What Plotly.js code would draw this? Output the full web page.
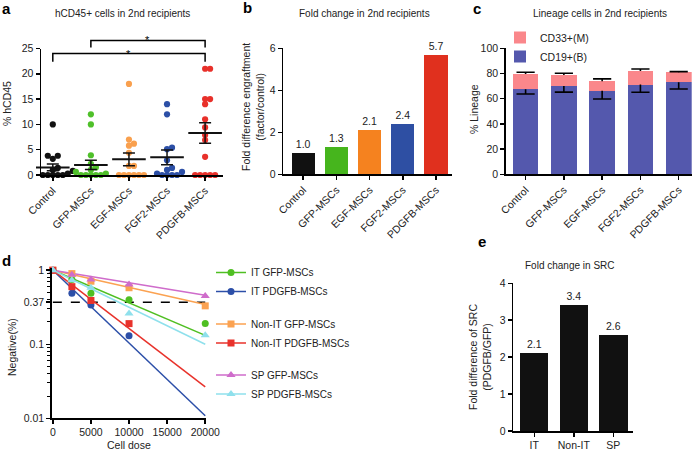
<!DOCTYPE html>
<html><head><meta charset="utf-8">
<script src="https://cdn.plot.ly/plotly-3.0.1.min.js"></script>
<style>html,body{margin:0;padding:0;background:#fff}#chart{width:698px;height:451px}</style>
</head><body><div id="chart"></div>
<script>
// ---------------- data ----------------
// Panel a / b / c categories
const groups = ['Control', 'GFP-MSCs', 'EGF-MSCs', 'FGF2-MSCs', 'PDGFB-MSCs'];
// Panel a: % hCD45 per mouse
const hcd45Control = [10, 3.8, 3.2, 3.8, 1.4, 1.0, 0.8, 0.5, 0.3, 0, 0, 0, 0, 0];
const hcd45GFP = [12, 10, 3.9, 2.2, 1.5, 1.0, 0.6, 0.3, 0, 0, 0, 0, 0];
const hcd45EGF = [18, 7, 6.2, 5.8, 4.4, 1.8, 1.8, 0, 0, 0, 0, 0, 0];
const hcd45FGF2 = [14, 12, 5.4, 5.1, 2.9, 1.4, 1.0, 0.6, 0.3, 0, 0, 0, 0];
const hcd45PDGFB = [21, 21, 15, 15, 14, 11, 9.4, 7.9, 6.9, 3.6, 0, 0, 0, 0, 0];
const hcd45Mean = [1.5, 2.0, 3.1, 3.5, 8.3];
const hcd45Sem = [0.65, 0.9, 1.25, 1.45, 2.05];
// Panel b: fold difference engraftment
const foldEngraft = [1.0, 1.3, 2.1, 2.4, 5.7];
// Panel c: lineage
const cd19 = [67.5, 70.0, 66.4, 71.2, 73.0];
const cd19Err = [3.8, 4.8, 6.6, 6.1, 5.3];
const cd33 = [12.1, 8.8, 7.4, 10.8, 8.0];
const cd33Err = [1.4, 1.4, 1.9, 1.6, 0.5];
// Panel d: limiting dilution
const cellDose = [0, 2500, 5000, 10000, 20000];
const fitDose = [0, 20000];
const negITGFP = [1, 0.75, 0.49, 0.40, 0.19];
const negITPDGFB = [1, 0.49, 0.34, 0.13, null];
const negNonITGFP = [1, 0.90, 0.71, 0.58, 0.33];
const negNonITPDGFB = [1, 0.60, 0.39, 0.19, null];
const negSPGFP = [1, 0.87, 0.75, 0.64, 0.45];
const negSPPDGFB = [1, 0.73, 0.58, 0.26, 0.132];
const fitITGFP = [1, 0.132];
const fitITPDGFB = [1, 0.0108];
const fitNonITGFP = [1, 0.345];
const fitNonITPDGFB = [1, 0.0265];
const fitSPGFP = [1, 0.46];
const fitSPPDGFB = [1, 0.10];
const threshold37 = 0.37;
// Panel e
const srcGroups = ['IT', 'Non-IT', 'SP'];
const srcFold = [2.1, 3.4, 2.6];

// ---------------- styling / layout helpers ----------------
const W = 698, H = 451;
const FONT = 'Liberation Sans, Arial, Helvetica, sans-serif';
const dx = (l, r) => [l / W, r / W];
const dy = (t, b) => [1 - b / H, 1 - t / H];
const axBase = {
  showline: true, linecolor: '#000', linewidth: 1.5, ticks: 'outside', ticklen: 4,
  tickwidth: 1.5, tickcolor: '#000', showgrid: false, zeroline: false,
  tickfont: {size: 10.5, color: '#222'}, fixedrange: true
};
const colA = ['#111111', '#4fc02a', '#f9a04e', '#2c4fa6', '#e8302a'];
const colB = ['#111111', '#46b51d', '#f5821f', '#2e4fa3', '#e0301e'];

const traces = [];

// ---------- panel a ----------
const domAx = dx(41, 223), domAy = dy(48.5, 175);
const rangeAx = [-0.31, 4.47], rangeAy = [0, 25];
const pxPerCatA = (domAx[1] - domAx[0]) * W / (rangeAx[1] - rangeAx[0]);
const pxPerUnitA = (domAy[1] - domAy[0]) * H / (rangeAy[1] - rangeAy[0]);
function swarm(vals, step) {
  const idx = vals.map((v, i) => i).sort((a, b) => vals[a] - vals[b]);
  const placed = [], off = new Array(vals.length).fill(0);
  for (const i of idx) {
    const y = vals[i] * pxPerUnitA;
    for (let k = 0; k < 60; k++) {
      const x = (k % 2 ? 1 : -1) * Math.ceil(k / 2) * step;
      if (placed.every(p => (p.x - x) ** 2 + (p.y - y) ** 2 >= step * step * 0.95)) {
        placed.push({x, y}); off[i] = x; break;
      }
    }
  }
  return off.map(o => o / pxPerCatA);
}
[hcd45Control, hcd45GFP, hcd45EGF, hcd45FGF2, hcd45PDGFB].forEach((vals, g) => {
  const off = swarm(vals, 5.0);
  traces.push({
    type: 'scatter', mode: 'markers', xaxis: 'x', yaxis: 'y',
    x: vals.map((v, i) => g + off[i]), y: vals, cliponaxis: false,
    marker: {size: 6.2, color: colA[g]}, showlegend: false, hoverinfo: 'y', name: groups[g]
  });
});
traces.push({
  type: 'scatter', mode: 'markers', xaxis: 'x', yaxis: 'y', x: [0, 1, 2, 3, 4], y: hcd45Mean,
  marker: {symbol: 'line-ew', size: 24, line: {width: 2, color: '#111'}}, cliponaxis: false,
  error_y: {type: 'data', array: hcd45Sem, width: 6, thickness: 1.5, color: '#111'},
  showlegend: false, name: 'mean ± SEM'
});

// ---------- panel b ----------
traces.push({
  type: 'bar', xaxis: 'x2', yaxis: 'y2', x: groups, y: foldEngraft, width: 0.7,
  marker: {color: colB}, text: foldEngraft.map(v => v.toFixed(1)), textposition: 'outside',
  textfont: {size: 10.5, color: '#222'}, cliponaxis: false, showlegend: false
});

// ---------- panel c ----------
traces.push({
  type: 'bar', xaxis: 'x3', yaxis: 'y3', x: groups, y: cd19, width: 0.67, name: 'CD19+(B)',
  marker: {color: '#5458ad'}, legend: 'legend', showlegend: true
});
traces.push({
  type: 'bar', xaxis: 'x3', yaxis: 'y3', x: groups, y: cd33, width: 0.67, name: 'CD33+(M)',
  marker: {color: '#fa878b'}, legend: 'legend', showlegend: true
});
const cTotal = cd19.map((v, i) => v + cd33[i]);
const capMarker = {symbol: 'line-ew', size: 13, line: {width: 1.6, color: '#000'}};
traces.push({
  type: 'scatter', mode: 'markers', xaxis: 'x3', yaxis: 'y3', x: groups, y: cd19,
  marker: {size: 1, color: 'rgba(0,0,0,0)'}, showlegend: false, hoverinfo: 'skip',
  error_y: {type: 'data', symmetric: false, array: cd19.map(() => 0), arrayminus: cd19Err, width: 0, thickness: 1.6, color: '#000'}
});
traces.push({
  type: 'scatter', mode: 'markers', xaxis: 'x3', yaxis: 'y3', x: groups,
  y: cd19.map((v, i) => v - cd19Err[i]), marker: capMarker, showlegend: false, hoverinfo: 'skip'
});
traces.push({
  type: 'scatter', mode: 'markers', xaxis: 'x3', yaxis: 'y3', x: groups, y: cTotal,
  marker: {size: 1, color: 'rgba(0,0,0,0)'}, showlegend: false, hoverinfo: 'skip',
  error_y: {type: 'data', symmetric: false, array: cd33Err, arrayminus: cd33.map(() => 0), width: 0, thickness: 1.6, color: '#000'}
});
traces.push({
  type: 'scatter', mode: 'markers', xaxis: 'x3', yaxis: 'y3', x: groups,
  y: cTotal.map((v, i) => v + cd33Err[i]), marker: capMarker, showlegend: false, hoverinfo: 'skip'
});

// ---------- panel d ----------
const seriesD = [
  {name: 'IT GFP-MSCs', leg: 'legend2', pts: negITGFP, fit: fitITGFP, color: '#4fbf22', symbol: 'circle'},
  {name: 'IT PDGFB-MSCs', leg: 'legend2', pts: negITPDGFB, fit: fitITPDGFB, color: '#2c4fa8', symbol: 'circle'},
  {name: 'Non-IT GFP-MSCs', leg: 'legend3', pts: negNonITGFP, fit: fitNonITGFP, color: '#fba251', symbol: 'square'},
  {name: 'Non-IT PDGFB-MSCs', leg: 'legend3', pts: negNonITPDGFB, fit: fitNonITPDGFB, color: '#e8322b', symbol: 'square'},
  {name: 'SP GFP-MSCs', leg: 'legend4', pts: negSPGFP, fit: fitSPGFP, color: '#cf6ccb', symbol: 'triangle-up'},
  {name: 'SP PDGFB-MSCs', leg: 'legend4', pts: negSPPDGFB, fit: fitSPPDGFB, color: '#8fe0ec', symbol: 'triangle-up'}
];
traces.push({
  type: 'scatter', mode: 'lines', xaxis: 'x4', yaxis: 'y4', x: fitDose, y: [threshold37, threshold37],
  line: {color: '#000', width: 1.5, dash: 'dash'}, showlegend: false, hoverinfo: 'skip'
});
seriesD.forEach(s => traces.push({
  type: 'scatter', mode: 'lines', xaxis: 'x4', yaxis: 'y4', x: fitDose, y: s.fit,
  line: {color: s.color, width: 1.5}, showlegend: false, hoverinfo: 'skip'
}));
seriesD.forEach(s => traces.push({
  type: 'scatter', mode: 'markers', xaxis: 'x4', yaxis: 'y4', x: cellDose, y: s.pts, cliponaxis: false,
  marker: {color: s.color, symbol: s.symbol, size: s.symbol === 'triangle-up' ? 8 : 7}, showlegend: false, name: s.name
}));
seriesD.forEach(s => traces.push({
  type: 'scatter', mode: 'lines+markers', xaxis: 'x4', yaxis: 'y4', x: [null], y: [null],
  name: s.name, legend: s.leg, showlegend: true,
  line: {color: s.color, width: 1.5}, marker: {color: s.color, symbol: s.symbol, size: s.symbol === 'triangle-up' ? 8 : 7}
}));

// ---------- panel e ----------
traces.push({
  type: 'bar', xaxis: 'x5', yaxis: 'y5', x: srcGroups, y: srcFold, width: 0.72,
  marker: {color: '#111'}, text: srcFold.map(v => v.toFixed(1)), textposition: 'outside',
  textfont: {size: 10.5, color: '#222'}, cliponaxis: false, showlegend: false
});

// ---------- annotations & shapes ----------
const ann = [];
const letter = (t, xpx, ypx) => ann.push({text: '<b>' + t + '</b>', xref: 'paper', yref: 'paper', x: xpx / W, y: 1 - ypx / H, xanchor: 'left', yanchor: 'middle', showarrow: false, font: {size: 15, color: '#000'}});
letter('a', 0, 9); letter('b', 241, 8); letter('c', 471, 9); letter('d', 0, 260); letter('e', 476, 241);
const ptitle = (t, xpx, ypx) => ann.push({text: t, xref: 'paper', yref: 'paper', x: xpx / W, y: 1 - ypx / H, xanchor: 'center', yanchor: 'middle', showarrow: false, font: {size: 10, color: '#222'}});
ptitle('hCD45+ cells in 2nd recipients', 122, 14);
ptitle('Fold change in 2nd recipients', 365, 14);
ptitle('Lineage cells in 2nd recipients', 600, 14);
ptitle('Fold change in SRC', 570, 265);
// axis titles
const ytitle = (t, xpx, ypx) => ann.push({text: t, xref: 'paper', yref: 'paper', x: xpx / W, y: 1 - ypx / H, xanchor: 'center', yanchor: 'middle', textangle: -90, showarrow: false, font: {size: 10.5, color: '#222'}});
ytitle('% hCD45', 7, 104);
ytitle('Fold difference engraftment<br>(factor/control)', 253, 107);
ytitle('% Lineage', 474, 109);
ytitle('Negative(%)', 12, 347);
ytitle('Fold difference of SRC<br>(PDGFB/GFP)', 480, 357);

// significance brackets for panel a (paper coords computed from the axis)
const pxA = c => domAx[0] + (c - rangeAx[0]) / (rangeAx[1] - rangeAx[0]) * (domAx[1] - domAx[0]);
const pyA = v => domAy[0] + (v - rangeAy[0]) / (rangeAy[1] - rangeAy[0]) * (domAy[1] - domAy[0]);
const brackets = [{from: 0, to: 4, top: 24.0, foot: 22.4}, {from: 1, to: 4, top: 26.6, foot: 25.2}];
const shapes = brackets.map(b => ({
  type: 'path', xref: 'paper', yref: 'paper', line: {color: '#000', width: 1.5},
  path: `M${pxA(b.from)},${pyA(b.foot)} L${pxA(b.from)},${pyA(b.top)} L${pxA(b.to)},${pyA(b.top)} L${pxA(b.to)},${pyA(b.foot)}`
}));
brackets.forEach(b => ann.push({text: '*', xref: 'paper', yref: 'paper', x: (pxA(b.from) + pxA(b.to)) / 2, y: pyA(b.top), xanchor: 'center', yanchor: 'middle', showarrow: false, font: {size: 11, color: '#000'}}));

const legBase = {xanchor: 'left', yanchor: 'middle', bgcolor: 'rgba(0,0,0,0)', font: {size: 10.5, color: '#222'}};
const layout = {
  width: W, height: H, margin: {l: 0, r: 0, t: 0, b: 0}, paper_bgcolor: '#fff', plot_bgcolor: 'rgba(0,0,0,0)',
  font: {family: FONT, size: 10, color: '#222'}, barmode: 'stack', showlegend: true,
  xaxis: {...axBase, domain: domAx, range: rangeAx, tickvals: [0, 1, 2, 3, 4], ticktext: groups, tickangle: -45, anchor: 'y'},
  yaxis: {...axBase, domain: domAy, range: rangeAy, dtick: 5, tick0: 0, anchor: 'x'},
  xaxis2: {...axBase, domain: dx(283.3, 451.7), type: 'category', range: [-0.6, 4.47], tickangle: -45, anchor: 'y2'},
  yaxis2: {...axBase, domain: dy(48.3, 174.3), range: [0, 6], dtick: 2, anchor: 'x2'},
  xaxis3: {...axBase, domain: dx(505.7, 691.7), type: 'category', range: [-0.52, 4.34], tickangle: -45, anchor: 'y3'},
  yaxis3: {...axBase, domain: dy(48.3, 174.3), range: [0, 100], dtick: 20, anchor: 'x3'},
  xaxis4: {...axBase, domain: dx(51.7, 206), range: [-150, 20100], tickvals: [0, 5000, 10000, 15000, 20000], ticktext: ['0', '5000', '10000', '15000', '20000'], anchor: 'y4', title: {text: 'Cell dose', font: {size: 10.5, color: '#222'}, standoff: 5}},
  yaxis4: {...axBase, type: 'log', domain: dy(268, 418.3), range: [-2, 0.03], tickvals: [0.01, 0.1, 0.37, 1], ticktext: ['0.01', '0.1', '0.37', '1'], anchor: 'x4',
    minor: {ticks: 'outside', ticklen: 3, tickwidth: 1, tickcolor: '#000', dtick: 'D1', showgrid: false}},
  xaxis5: {...axBase, domain: dx(513.3, 632.7), type: 'category', range: [-0.53, 2.49], anchor: 'y5'},
  yaxis5: {...axBase, domain: dy(283.3, 431), range: [0, 4], dtick: 1, anchor: 'x5'},
  legend: {...legBase, x: 500 / W, y: 1 - 47 / H, traceorder: 'reversed'},
  legend2: {...legBase, x: 211 / W, y: 1 - 282 / H, font: {size: 10, color: '#222'}},
  legend3: {...legBase, x: 211 / W, y: 1 - 333.5 / H, font: {size: 10, color: '#222'}},
  legend4: {...legBase, x: 211 / W, y: 1 - 384.5 / H, font: {size: 10, color: '#222'}},
  annotations: ann, shapes: shapes
};
Plotly.newPlot('chart', traces, layout, {displayModeBar: false, staticPlot: true});
</script></body></html>
